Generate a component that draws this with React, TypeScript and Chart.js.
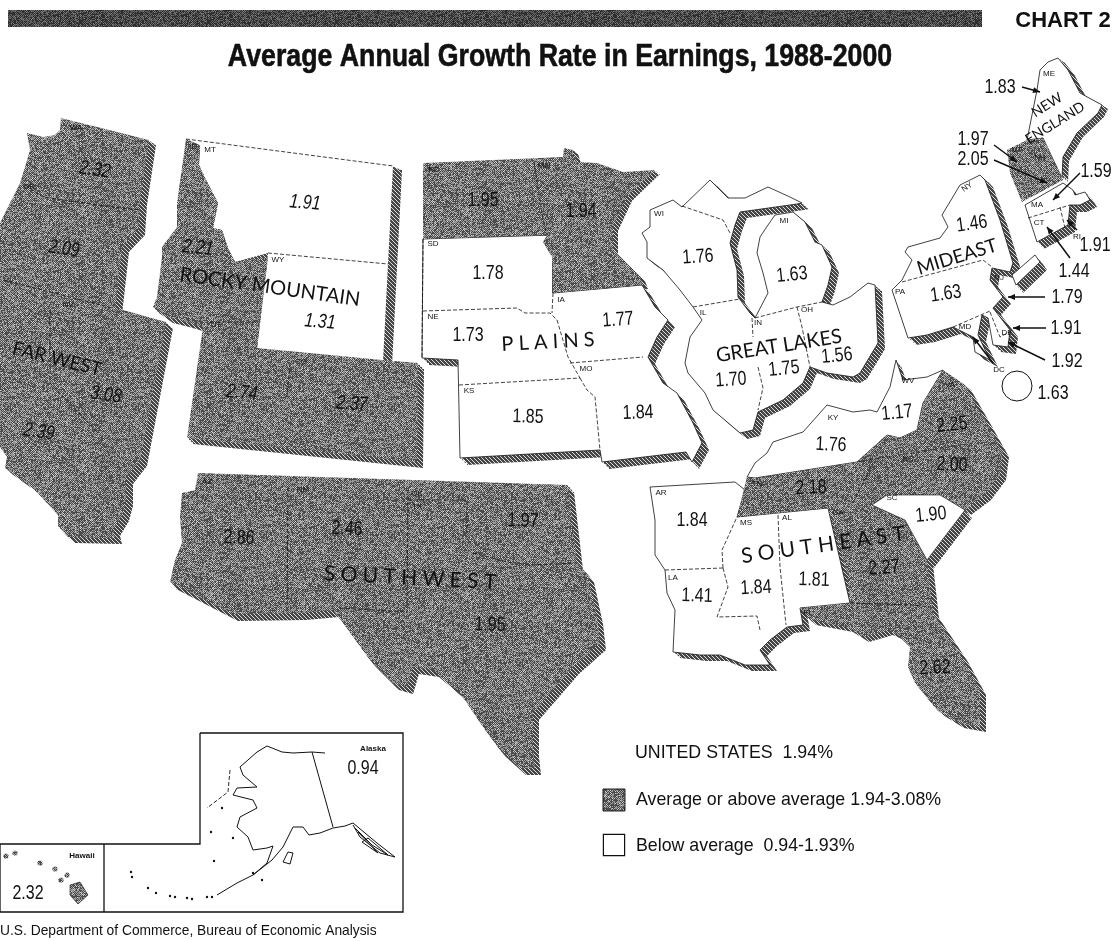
import React, { useEffect, useRef } from "react";
import { Chart, registerables } from "chart.js";

Chart.register(...registerables);

type P = [number, number];

// ---- map outlines, in map units ----
const farWestNorth: P[] = [[25,122],[27,133],[43,137],[55,135],[60,130],[61,118],[149,140],[140,200],[138,230],[122,247],[115,310],[-5,285],[-5,233],[20,183],[25,167],[30,150]];
const farWestSouth: P[] = [[-5,282],[123,310],[166,322],[140,460],[126,478],[126,500],[122,515],[113,530],[115,538],[68,537],[58,526],[58,515],[33,488],[5,468],[7,457],[-5,440]];
const montanaWyoming: P[] = [[200,145],[393,166],[388,264],[383,362],[257,349],[268,253],[235,262],[228,248],[222,230],[213,228],[218,203],[205,178],[199,165]];
const rockyGray: P[] = [[186,139],[200,145],[199,165],[205,178],[218,203],[213,228],[222,230],[228,248],[235,262],[262,258],[268,258],[257,348],[382,360],[418,363],[417,462],[187,438],[203,327],[187,322],[167,317],[153,307],[157,297],[162,257],[162,247],[177,227],[177,203]];
const plainsWhite: P[] = [[423,239],[553,235],[553,293],[642,285],[655,307],[668,320],[657,337],[648,357],[663,383],[677,393],[693,423],[702,443],[692,462],[686,452],[602,462],[600,450],[460,458],[458,360],[422,358]];
const plainsGray: P[] = [[423,163],[563,157],[564,148],[573,150],[577,162],[597,163],[623,172],[655,170],[627,197],[613,227],[613,250],[640,277],[643,285],[553,293],[552,257],[543,242],[547,235],[423,239]];
const greatLakes: P[] = [[650,210],[673,200],[682,207],[710,180],[728,198],[745,198],[768,187],[790,197],[802,203],[797,204],[740,212],[735,225],[730,243],[737,270],[738,297],[750,313],[755,318],[768,293],[763,273],[757,253],[760,237],[768,225],[775,215],[793,212],[805,222],[815,242],[822,245],[832,267],[828,285],[822,302],[833,305],[850,297],[868,283],[875,285],[878,343],[860,373],[853,377],[827,373],[810,367],[803,383],[783,400],[758,412],[753,430],[740,433],[713,410],[705,393],[688,373],[685,363],[690,337],[702,320],[693,307],[680,290],[663,270],[647,258],[647,242],[642,233],[650,227]];
const mideast: P[] = [[980,175],[960,185],[942,215],[948,227],[940,238],[908,247],[905,252],[912,260],[902,280],[892,290],[908,338],[927,335],[953,327],[973,337],[975,352],[990,360],[978,335],[982,315],[988,318],[993,345],[1008,347],[1010,330],[993,308],[1003,297],[990,280],[992,268],[1010,272],[1013,263],[1000,220],[985,180]];
const longIsland: P[] = [[1012,275],[1035,255],[1040,262],[1016,285]];
const maine: P[] = [[1037,90],[1040,70],[1048,62],[1058,58],[1068,70],[1080,93],[1102,105],[1098,113],[1077,133],[1063,157],[1062,178],[1043,138],[1027,140]];
const vermontHampshire: P[] = [[1007,150],[1027,140],[1043,138],[1063,180],[1022,202],[1010,173]];
const southernNewEngland: P[] = [[1025,205],[1063,183],[1073,190],[1075,195],[1085,192],[1090,200],[1080,205],[1070,205],[1068,225],[1037,242]];
const kentuckyVirginia: P[] = [[747,477],[755,463],[767,453],[773,442],[803,432],[827,405],[853,412],[870,410],[877,412],[890,387],[896,360],[903,380],[927,377],[943,370],[923,403],[917,430],[900,438],[887,435],[857,462],[755,478]];
const southeastGray: P[] = [[943,370],[965,385],[985,420],[1003,452],[1000,475],[985,495],[965,510],[940,495],[917,495],[887,495],[872,505],[905,520],[927,560],[933,613],[962,657],[980,690],[980,727],[958,723],[937,710],[915,683],[908,667],[910,647],[898,635],[887,630],[863,637],[847,627],[810,620],[800,608],[850,603],[847,573],[828,508],[737,517],[747,477],[755,478],[857,462],[887,435],[900,438],[917,430],[923,403]];
const southCarolina: P[] = [[872,505],[887,495],[917,495],[940,495],[965,510],[927,560],[905,520]];
const southeastWhite: P[] = [[650,487],[735,482],[745,490],[737,517],[828,508],[850,603],[800,608],[803,625],[787,627],[770,640],[760,650],[770,665],[745,665],[720,655],[700,655],[673,652],[675,610],[667,593],[665,570],[655,555],[655,520]];
const southwest: P[] = [[198,473],[568,485],[577,563],[588,575],[597,617],[600,643],[573,667],[533,713],[533,750],[535,768],[520,768],[500,750],[483,727],[460,693],[433,670],[413,667],[407,687],[393,683],[370,660],[343,623],[333,610],[300,613],[232,614],[170,582],[175,560],[182,543],[180,517],[182,493],[195,490]];
const headerBar: P[] = [[8,10],[982,10],[982,27],[8,27]];
const alaskaFrame: P[] = [[200,733],[403,733],[403,912],[0,912],[0,844],[200,844]];
const hawaiiDivider: P[] = [[104,844],[104,912]];
const alaskaCoast: P[] = [[325,753],[312,752],[293,753],[282,752],[267,746],[257,752],[240,767],[243,775],[257,787],[237,788],[233,795],[253,800],[257,808],[240,817],[237,827],[248,837],[253,850],[267,848],[273,846],[267,863],[253,875],[237,883],[217,895]];
const alaskaSouth: P[] = [[253,875],[272,860],[283,847],[293,827],[303,827],[309,835],[320,833],[333,828],[345,826],[353,823],[377,843],[395,857],[380,853],[360,837],[353,825]];
const alaskaPanhandle: P[] = [[355,828],[372,845],[388,855],[368,838],[362,842],[378,853],[358,832]];
const kodiakIsland: P[] = [[283,862],[288,852],[293,853],[290,864]];
const alaskaBorder: P[] = [[312,752],[333,827]];
const beringLine: P[] = [[230,770],[228,792],[207,808]];
const bigIsland: P[] = [[70,885],[80,882],[88,895],[78,904],[70,895]];
const alaskaIslands: P[] = [[131,872],[132,877],[148,888],[156,893],[170,896],[175,897],[187,898],[192,899],[207,897],[212,897],[211,832],[214,861],[222,808],[233,838],[253,873],[262,880]];
const hawaiiIslands: P[] = [[15,853],[6,856],[40,863],[55,869],[67,875],[61,880]];
const dcCircle: P[] = [[1017,386]];
const swatchAbove: P[] = [[614,800]];
const swatchBelow: P[] = [[614,845]];

// ---- state border lines, in map units ----
const dashedBorders: P[][] = [
  [[25,185],[43,197],[113,207],[140,210]],
  [[3,280],[113,308]],
  [[50,310],[50,383],[105,440]],
  [[186,139],[393,166]],
  [[268,253],[388,264]],
  [[210,322],[260,322]],
  [[290,363],[287,397]],
  [[534,162],[543,220],[547,235]],
  [[423,311],[517,308],[525,313],[550,313],[557,320]],
  [[553,293],[552,313]],
  [[557,320],[568,357],[580,378]],
  [[459,385],[580,378]],
  [[580,378],[587,390],[595,397],[600,450]],
  [[570,363],[643,357]],
  [[423,239],[422,358]],
  [[693,307],[740,299]],
  [[752,318],[753,337]],
  [[758,367],[763,388],[758,410]],
  [[797,307],[802,327],[810,367]],
  [[755,318],[797,307],[822,302]],
  [[682,206],[723,220],[730,233]],
  [[902,282],[983,260],[992,267]],
  [[953,327],[990,311]],
  [[990,312],[1000,337],[1013,330]],
  [[665,570],[723,568]],
  [[723,568],[722,550],[737,517]],
  [[723,568],[728,587],[717,617],[757,616],[760,630]],
  [[778,515],[780,567],[786,625]],
  [[850,603],[913,605],[930,607]],
  [[857,462],[973,443]],
  [[853,503],[873,463]],
  [[408,490],[407,613]],
  [[408,500],[467,500],[467,532]],
  [[473,553],[507,562],[530,565],[577,563]],
  [[288,487],[287,613]],
  [[340,608],[407,612]],
  [[1028,218],[1070,205]],
  [[1060,207],[1065,228]],
];

// ---- leader arrows ----
const arrowTails: P[] = [[1022,87],[994,145],[994,160],[1080,173],[1077,230],[1070,258],[1045,297],[1046,328],[1045,360],[993,363]];
const arrowTips: P[] = [[1040,92],[1017,162],[1047,183],[1053,200],[1067,220],[1047,227],[1008,297],[1013,328],[1008,342],[973,337]];

// ---- values ----
const rateValues = ["2.32","2.09","3.08","2.39","2.21","1.91","1.31","2.74","2.37","1.95","1.94","1.78","1.73","1.77","1.85","1.84","1.76","1.63","1.70","1.75","1.56","1.46","1.63","1.83","1.97","2.05","1.59","1.91","1.44","1.79","1.91","1.92","1.63","1.17","1.76","2.25","2.00","2.18","1.84","1.90","2.27","1.41","1.84","1.81","2.62","2.86","2.46","1.97","1.95","0.94","2.32"];
const rateAnchors: [number, number, number][] = [[95,170,8],[64,249,8],[106,395,8],[39,432,8],[198,248,6],[305,203,5],[320,322,5],[242,393,6],[352,404,4],[483,200,0],[581,211,0],[488,273,0],[468,335,0],[618,320,-4],[528,417,2],[638,413,-2],[698,257,-4],[792,275,-6],[731,380,-4],[784,369,-6],[837,356,-6],[972,224,-8],[946,294,-8],[1000,87,0],[973,139,0],[973,159,0],[1096,171,0],[1095,245,0],[1074,271,0],[1067,297,0],[1066,328,0],[1067,361,0],[1053,393,0],[897,413,-6],[831,445,3],[952,425,-6],[952,465,3],[811,488,-3],[692,520,0],[931,515,-6],[884,568,-4],[697,596,2],[756,588,-3],[814,580,2],[935,668,-3],[239,538,3],[347,529,3],[523,521,2],[490,625,2],[363,768,0],[28,893,0]];
const regionNames = ["ROCKY MOUNTAIN","FAR WEST","P L A I N S","GREAT LAKES","MIDEAST","NEW","ENGLAND","S O U T H E A S T","S O U T H W E S T"];
const regionAnchors: [number, number, number, number][] = [[270,287,8,20],[57,359,14,19],[548,342,-3,20],[779,346,-9,20],[957,257,-17,19],[1047,105,-32,14],[1055,123,-32,14],[823,545,-8,21],[410,578,3,21]];
const stateCodes = ["WA","OR","NV","ID","MT","WY","UT","CO","ND","MN","SD","NE","IA","MO","KS","WI","IL","IN","OH","MI","NY","PA","NJ","MD","DE","DC","WV","VA","MA","CT","RI","VT","NH","ME","KY","TN","NC","SC","AR","LA","MS","AL","GA","FL","AZ","NM","OK","TX"];
const codeAnchors: P[] = [[76,128],[29,187],[68,305],[193,147],[210,150],[278,260],[216,325],[301,362],[434,170],[544,166],[433,244],[433,317],[561,300],[586,369],[469,391],[659,214],[703,313],[758,323],[807,310],[784,221],[967,187],[900,292],[999,278],[965,327],[1007,333],[999,370],[908,381],[950,385],[1037,205],[1039,223],[1077,237],[1017,150],[1040,158],[1049,74],[833,418],[757,484],[908,459],[892,498],[661,493],[673,578],[746,523],[787,518],[838,513],[808,613],[207,482],[303,490],[417,494],[417,507]];
const chartTitle = "Average Annual Growth Rate in Earnings, 1988-2000";
const chartTag = "CHART 2";
const summaryText = "UNITED STATES  1.94%";
const legendAbove = "Average or above average 1.94-3.08%";
const legendBelow = "Below average  0.94-1.93%";
const sourceText = "U.S. Department of Commerce, Bureau of Economic Analysis";

const SANS = '"Liberation Sans",sans-serif';
const GEO = 'Lato,"Open Sans",sans-serif';

function hash(x: number, y: number) {
  const s = Math.sin(x * 12.9898 + y * 78.233) * 43758.5453;
  return s - Math.floor(s);
}
function halftone(gain: number): CanvasPattern {
  const n = 128;
  const c = document.createElement("canvas");
  c.width = c.height = n;
  const g = c.getContext("2d")!;
  const img = g.createImageData(n, n);
  for (let y = 0; y < n; y++) for (let x = 0; x < n; x++) {
    const v = hash(x, y);
    const odd = (x + y) % 2 === 1;
    const lum = (odd ? (v < 0.75 ? 70 : 140) : v < 0.25 ? 80 : v < 0.8 ? 160 : 210) * gain;
    const i = (y * n + x) * 4;
    img.data[i] = img.data[i + 1] = img.data[i + 2] = lum;
    img.data[i + 3] = 255;
  }
  g.putImageData(img, 0, 0);
  return g.createPattern(c, "repeat")!;
}
function hatch(): CanvasPattern {
  const n = 4;
  const c = document.createElement("canvas");
  c.width = c.height = n;
  const g = c.getContext("2d")!;
  const img = g.createImageData(n, n);
  for (let y = 0; y < n; y++) for (let x = 0; x < n; x++) {
    const lum = (x - y + 8) % 4 === 0 ? 220 : 70;
    const i = (y * n + x) * 4;
    img.data[i] = img.data[i + 1] = img.data[i + 2] = lum;
    img.data[i + 3] = 255;
  }
  g.putImageData(img, 0, 0);
  return g.createPattern(c, "repeat")!;
}

const pts = (p: P[]) => p.map(([x, y]) => ({ x, y }));
const closed = (p: P[]) => pts([...p, p[0]]);
const moved = (p: P[], dx: number, dy: number): P[] => p.map(([x, y]) => [x + dx, y + dy]);

export default function App() {
  const ref = useRef<HTMLCanvasElement>(null);
  useEffect(() => {
    const gray = halftone(1);
    const barGray = halftone(0.62);
    const lines = hatch();
    const base = { type: "scatter", showLine: true, pointRadius: 0, tension: 0, clip: false };
    const layers: any[] = [];
    const face = (p: P[], bg: any, border = "#111", width = 0.8, dash: number[] = []) =>
      layers.push({ ...base, data: closed(p), fill: "shape", backgroundColor: bg, borderColor: width ? border : "transparent", borderWidth: width, borderDash: dash });
    const shadow = (p: P[], dx: number, dy: number) => {
      for (let k = 1; k <= 3; k++) layers.push({ ...base, data: closed(moved(p, (dx * k) / 3, (dy * k) / 3)), fill: "shape", backgroundColor: lines, borderWidth: 0 });
    };
    const path = (p: P[], width = 0.8, dash: number[] = [], color = "#111") =>
      layers.push({ ...base, data: pts(p), fill: false, borderColor: color, borderWidth: width, borderDash: dash });
    const dots = (p: P[], radius: number, bg: any, border = "#111", width = 0, style = "circle") =>
      layers.push({ type: "scatter", showLine: false, data: pts(p), pointRadius: radius, pointStyle: style, backgroundColor: bg, borderColor: border, borderWidth: width, clip: false });

    face(headerBar, barGray, "#111", 0);
    shadow(farWestNorth, 7, 5); shadow(farWestSouth, 7, 6); shadow(montanaWyoming, 9, 4); shadow(rockyGray, 6, 6);
    shadow(plainsGray, 5, 4); shadow(plainsWhite, 7, 7); shadow(greatLakes, 7, 6); shadow(mideast, 8, 7); shadow(longIsland, 7, 8);
    shadow(maine, 6, 4); shadow(southernNewEngland, 7, 7); shadow(kentuckyVirginia, 5, 6); shadow(southeastGray, 6, 5);
    shadow(southCarolina, 7, 8); shadow(southeastWhite, 7, 6); shadow(southwest, 6, 7);

    face(farWestNorth, gray, "#111", 0); face(farWestSouth, gray, "#111", 0);
    face(montanaWyoming, "#fff", "#111", 0); face(rockyGray, gray, "#111", 0);
    face(plainsWhite, "#fff", "#111", 0.8); face(plainsGray, gray, "#111", 0);
    face(greatLakes, "#fff"); face(mideast, "#fff"); face(longIsland, "#fff");
    face(maine, "#fff"); face(vermontHampshire, gray, "#111", 0); face(southernNewEngland, "#fff");
    face(southeastWhite, "#fff"); face(kentuckyVirginia, "#fff"); face(southeastGray, gray, "#111", 0); face(southCarolina, "#fff", "#111", 0.6);
    face(southwest, gray, "#111", 0);

    dashedBorders.forEach((b) => path(b, 0.8, [4, 2]));
    path(alaskaFrame.concat([alaskaFrame[0]]), 1.3);
    path(hawaiiDivider, 1.3);
    path(alaskaCoast, 1); path(alaskaSouth, 1); path(alaskaPanhandle, 1); path(alaskaBorder, 1); path(beringLine, 0.9, [4, 2]);
    face(kodiakIsland, "#fff", "#111", 1);
    face(bigIsland, gray, "#111", 0.6);
    dots(alaskaIslands, 1.2, "#111");
    dots(hawaiiIslands, 2.6, gray);
    dots(dcCircle, 15, "#fff", "#111", 1);
    dots(swatchAbove, 15.5, gray, "#111", 1, "rect");
    dots(swatchBelow, 15, "#fff", "#111", 1.2, "rect");

    const textPlugin = {
      id: "mapText",
      afterDatasetsDraw(chart: any) {
        const { ctx, scales } = chart;
        const X = (v: number) => scales.x.getPixelForValue(v);
        const Y = (v: number) => scales.y.getPixelForValue(v);
        const put = (t: string, x: number, y: number, font: string, deg = 0, align: CanvasTextAlign = "center", squeeze = 1, heavy = 0) => {
          ctx.save();
          ctx.translate(X(x), Y(y));
          ctx.rotate((deg * Math.PI) / 180);
          ctx.scale(squeeze, 1);
          ctx.font = font;
          ctx.fillStyle = "#111";
          ctx.textAlign = align;
          ctx.textBaseline = "middle";
          ctx.fillText(t, 0, 0);
          if (heavy) {
            ctx.strokeStyle = "#111";
            ctx.lineWidth = heavy;
            ctx.strokeText(t, 0, 0);
          }
          ctx.restore();
        };
        arrowTails.forEach((a, i) => {
          const b = arrowTips[i];
          const x0 = X(a[0]), y0 = Y(a[1]), x1 = X(b[0]), y1 = Y(b[1]);
          const ang = Math.atan2(y1 - y0, x1 - x0);
          ctx.save();
          ctx.strokeStyle = "#111";
          ctx.fillStyle = "#111";
          ctx.lineWidth = 1.5;
          ctx.beginPath(); ctx.moveTo(x0, y0); ctx.lineTo(x1, y1); ctx.stroke();
          ctx.translate(x1, y1); ctx.rotate(ang);
          ctx.beginPath(); ctx.moveTo(0, 0); ctx.lineTo(-7, -3); ctx.lineTo(-7, 3); ctx.closePath(); ctx.fill();
          ctx.restore();
        });
        stateCodes.forEach((c, i) => put(c, codeAnchors[i][0], codeAnchors[i][1], `8px ${SANS}`, c === "NY" ? -35 : 0));
        rateValues.forEach((v, i) => {
          const [x, y, r] = rateAnchors[i];
          put(v, x, y, `${i < 9 ? "italic " : ""}20px ${SANS}`, r, "center", 0.8);
        });
        regionNames.forEach((n, i) => {
          const [x, y, r, s] = regionAnchors[i];
          put(n, x, y, `${s}px ${GEO}`, r);
        });
        put(chartTitle, 560, 57, `bold 32px ${SANS}`, 0, "center", 0.835, 0.6);
        put(chartTag, 1063, 21, `bold 22px ${SANS}`);
        put(summaryText, 635, 753, `17.8px ${SANS}`, 0, "left");
        put(legendAbove, 636, 800, `17.8px ${SANS}`, 0, "left");
        put(legendBelow, 636, 846, `17.8px ${SANS}`, 0, "left");
        put("Alaska", 373, 749, `bold 8px ${SANS}`);
        put("Hawaii", 82, 856, `bold 8px ${SANS}`);
        put(sourceText, 0, 931, `15px ${SANS}`, 0, "left", 0.92);
      },
    };

    const chart = new Chart(ref.current!, {
      type: "scatter",
      data: { datasets: layers.slice().reverse() },
      plugins: [textPlugin],
      options: {
        animation: false,
        responsive: false,
        layout: { padding: 0, autoPadding: false },
        scales: {
          x: { type: "linear", min: 0, max: 1117, display: false },
          y: { type: "linear", min: 0, max: 941, reverse: true, display: false },
        },
        plugins: { legend: { display: false }, tooltip: { enabled: false }, title: { display: false } },
      },
    } as any);
    return () => chart.destroy();
  }, []);
  return (
    <div style={{ position: "absolute", left: 0, top: 0, width: 1117, height: 941, background: "#fff" }}>
      <canvas ref={ref} width={1117} height={941} style={{ display: "block" }} />
    </div>
  );
}
